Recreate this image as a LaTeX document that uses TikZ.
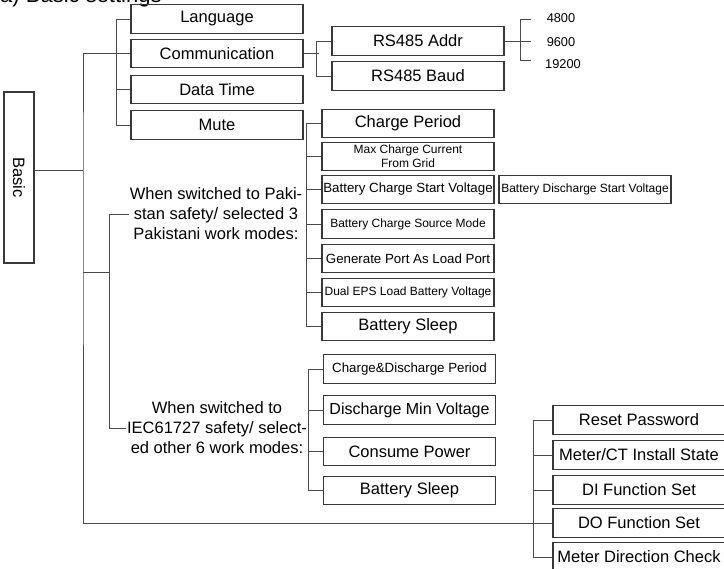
\documentclass[tikz,border=0pt]{standalone}
\usepackage{fontspec}
\setmainfont{Liberation Sans}
\usetikzlibrary{positioning,calc}
\definecolor{edge}{HTML}{383838}
\definecolor{wire}{HTML}{4A4A4A}

\begin{document}
\begin{tikzpicture}[x=1pt,y=-1pt,
  font=\fontsize{16.5}{19.5}\selectfont,
  item/.style={draw=edge,line width=1.1pt,minimum width=172pt,minimum height=28.5pt,
               inner xsep=0.5pt,inner ysep=1pt,align=center},
  small/.style={font=\fontsize{12}{14}\selectfont},
  mid/.style={font=\fontsize{13.3}{15.5}\selectfont},
  wire/.style={draw=wire,line width=0.9pt},
  note/.style={align=center,inner sep=1pt,font=\fontsize{16.5}{20}\selectfont}]
\useasboundingbox (0,0) rectangle (724,569);
\node[anchor=base west,inner sep=0pt,font=\fontsize{22}{26}\selectfont] (title) at (0,3) {a) Basic settings};

\node[item,rotate=-90,minimum width=171pt,minimum height=30pt] (basic) at (19,177.5) {Basic};

\node[item] (lang) at (217,19) {Language};
\node[item] (comm) at (217,53.5) {Communication};
\node[item] (dtime) at (217,89.5) {Data Time};
\node[item] (mute) at (217,125) {Mute};

\node[item] (addr) at (418,41) {RS485 Addr};
\node[item] (baud) at (418,76) {RS485 Baud};
\node[inner sep=1pt,font=\fontsize{12.8}{15}\selectfont] (v48) at (561,18) {4800};
\node[inner sep=1pt,font=\fontsize{12.8}{15}\selectfont] (v96) at (561,42) {9600};
\node[inner sep=1pt,font=\fontsize{12.8}{15}\selectfont] (v192) at (563,64) {19200};
\coordinate (k1) at (531,19);
\coordinate (k2) at (531,41);
\coordinate (k3) at (531,60);

\node[note] (pk) at (216,214) {When switched to Paki-\\stan safety/ selected 3\\Pakistani work modes:};
\node[item] (cper) at (408,123.5) {Charge Period};
\node[item,small] (maxc) at (408,156.5) {Max Charge Current\\From Grid};
\node[item,mid] (bcsv) at (408,189.5) {Battery Charge Start Voltage};
\node[item,small] (bcsm) at (408,224) {Battery Charge Source Mode};
\node[item,mid] (genp) at (408,258.5) {Generate Port As Load Port};
\node[item,small] (deps) at (408,292.5) {Dual EPS Load Battery Voltage};
\node[item] (bslp) at (408,326.5) {Battery Sleep};
\node[item,small] (bdsv) at (585,189.5) {Battery Discharge Start Voltage};

\node[note] (iec) at (217,428) {When switched to\\IEC61727 safety/ select-\\ed other 6 work modes:};
\node[item,mid] (cdper) at (409.5,369) {Charge\&Discharge Period};
\node[item,font=\fontsize{16}{19}\selectfont] (dminv) at (409.5,410) {Discharge Min Voltage};
\node[item] (cpow) at (409.5,451.5) {Consume Power};
\node[item] (bslq) at (409.5,490.5) {Battery Sleep};

\node[item] (rpwd) at (639,420) {Reset Password};
\node[item] (mcts) at (639,455) {Meter/CT Install State};
\node[item] (difn) at (639,490) {DI Function Set};
\node[item] (dofn) at (639,523) {DO Function Set};
\node[item] (mdir) at (639,557) {Meter Direction Check};

\coordinate (bj) at (83,170);
\coordinate (sj) at (83,272);
\coordinate (sbus) at (109,272);

% trunk
\draw[wire] (comm.west) -| (bj) |- (dofn.west);
\draw[wire] (bj -| basic.north) -- (bj);
\draw[wire] (sj) -- (sbus);
\draw[wire] (pk.west) -- (pk.west -| sbus) -- (iec.west -| sbus) -- (iec.west);

\draw[wire] (lang.west) -- ++(-14,0) |- (mute.west);
\draw[wire] (dtime.west) -- ++(-14,0);

\draw[wire] (comm.east) -- ++(15,0);
\draw[wire] (addr.west) -- ++(-15,0) |- (baud.west);
\draw[wire] (addr.east) -- (k2);
\draw[wire] (k1) -| ($(addr.east)+(16,0)$) |- (k3);

\draw[wire] (cper.west) -- ++(-15,0) |- (bslp.west);
\foreach \n in {maxc,bcsv,bcsm,genp,deps}
  \draw[wire] (\n.west) -- ++(-15,0);

\draw[wire] (cdper.west) -- ++(-15,0) |- (bslq.west);
\foreach \n in {dminv,cpow}
  \draw[wire] (\n.west) -- ++(-15,0);

\draw[wire] (rpwd.west) -- ++(-19,0) |- (mdir.west);
\foreach \n in {mcts,difn}
  \draw[wire] (\n.west) -- ++(-19,0);
\end{tikzpicture}
\end{document}
